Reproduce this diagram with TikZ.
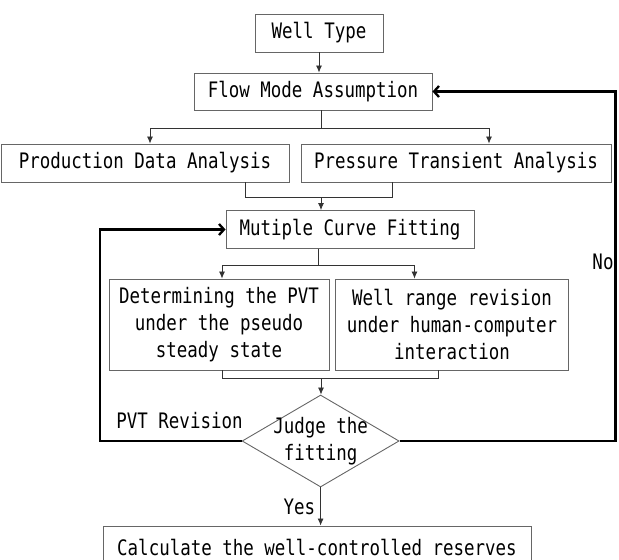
\documentclass[tikz,border=0pt]{standalone}
\usepackage{fontspec}
\setmainfont[FakeStretch=0.82]{DejaVu Sans Mono}
\usetikzlibrary{shapes.geometric,arrows.meta}

\begin{document}
\begin{tikzpicture}[x=1pt,y=-1pt]
	\tikzset{box/.style={draw=black!60,line width=0.9pt,inner sep=0pt,align=center,font=\fontsize{21.3}{26.7}\selectfont}}
	\tikzset{judgebox/.style={diamond,draw=black!60,line width=0.9pt,inner sep=0pt,minimum width=157pt,minimum height=92pt}}
	\tikzset{link/.style={draw=black!80,line width=0.8pt}}
	\tikzset{linkarrow/.style={link,-{Latex[length=7pt,width=6pt]}}}
	\tikzset{loopback/.style={line width=2.3pt,-{Straight Barb[length=5pt,width=11pt]}}}
	\tikzset{tag/.style={inner sep=0pt,font=\fontsize{21.3}{26.7}\selectfont}}

	\useasboundingbox (0,0) rectangle (619,560);
	\clip (0,0) rectangle (619,560);

	\node[box,minimum width=128pt,minimum height=38pt] (wtype) at (319,33) {Well Type};
	\node[box,minimum width=238pt,minimum height=37pt] (flowmode) at (313,91.5) {Flow Mode Assumption};
	\node[box,minimum width=288pt,minimum height=38pt] (pda) at (145,163) {Production Data Analysis};
	\node[box,minimum width=310pt,minimum height=38pt] (pta) at (456,163) {Pressure Transient Analysis};
	\node[box,minimum width=248pt,minimum height=38pt] (mcf) at (350,229.5) {Mutiple Curve Fitting};
	\node[box,minimum width=220pt,minimum height=91pt] (det) at (219,324.5) {Determining the PVT\\under the pseudo\\steady state};
	\node[box,minimum width=233pt,minimum height=91pt] (wrr) at (452,324.5) {Well range revision\\under human-computer\\interaction};
	\node[judgebox,label={[tag,align=center]center:Judge the\\fitting}] (judge) at (320.6,441) {};
	\node[box,minimum width=428pt,minimum height=42pt] (calc) at (317,547) {Calculate the well-controlled reserves};

	\node[tag] (pvtrev) at (179.5,421) {PVT Revision};
	\node[tag] (no) at (603,262) {No};

	\draw[linkarrow] (wtype.south) -- (wtype.south |- flowmode.north);

	\draw[link] ([xshift=8pt]flowmode.south) -- ++(0,18) coordinate (fork1);
	\draw[linkarrow] (fork1) -| ([xshift=5pt]pda.north);
	\draw[linkarrow] (fork1) -| ([xshift=33pt]pta.north);

	\draw[link] ([xshift=100pt]pda.south) -- ++(0,15) -| ([xshift=-64pt]pta.south);
	\coordinate (join1) at (321,197);
	\draw[linkarrow] (join1) -- (join1 |- mcf.north);

	\draw[link] ([xshift=-32pt]mcf.south) -- ++(0,16) coordinate (fork2);
	\draw[linkarrow] (fork2) -| ([xshift=3pt]det.north);
	\draw[linkarrow] (fork2) -| ([xshift=-37.5pt]wrr.north);

	\draw[link] ([xshift=3pt]det.south) -- ++(0,8) -| ([xshift=-14pt]wrr.south);
	\coordinate (join2) at (321,378);
	\draw[linkarrow] (join2) -- (join2 |- judge.north);

	\draw[linkarrow] (judge.south) -- (judge.south |- calc.north) node[tag,midway,left=5pt] {Yes};

	\draw[loopback] (judge.west) -- ++(-142,0) |- (mcf.west);
	\draw[loopback] (judge.east) -- ++(216,0) |- (flowmode.east);
\end{tikzpicture}
\end{document}
